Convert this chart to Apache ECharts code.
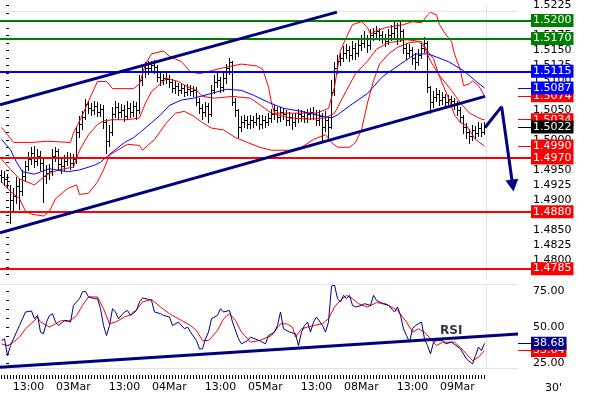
<!DOCTYPE html>
<html><head><meta charset="utf-8">
<script src="https://cdn.jsdelivr.net/npm/echarts@6/dist/echarts.min.js"></script>
<style>html,body{margin:0;padding:0;background:#fff}#c{width:590px;height:400px}</style>
</head><body><div id="c"></div>
<script>
// ---------- DATA (30' bars, bar index = position on the time axis) ----------
const opens = [1.4942,1.4938,1.4935,1.4932,1.4899,1.4907,1.4923,1.4915,1.4940,1.4956,
1.4968,1.4978,1.4965,1.4973,1.4961,1.4940,1.4945,1.4948,1.4973,1.4981,
1.4960,1.4956,1.4965,1.4971,1.4961,1.4968,1.5014,1.5027,1.5039,1.5060,
1.5054,1.5050,1.5057,1.5047,1.5052,1.5031,1.4998,1.5014,1.5044,1.5055,
1.5047,1.5050,1.5041,1.5054,1.5047,1.5057,1.5050,1.5100,1.5113,1.5121,
1.5120,1.5125,1.5123,1.5105,1.5100,1.5103,1.5102,1.5097,1.5087,1.5090,
1.5083,1.5087,1.5080,1.5085,1.5082,1.5083,1.5064,1.5054,1.5047,1.5057,
1.5044,1.5083,1.5097,1.5100,1.5088,1.5103,1.5121,1.5130,1.5064,1.5050,
1.5022,1.5031,1.5034,1.5027,1.5034,1.5031,1.5037,1.5027,1.5034,1.5031,
1.5037,1.5044,1.5050,1.5039,1.5047,1.5044,1.5034,1.5039,1.5031,1.5037,
1.5044,1.5041,1.5037,1.5044,1.5047,1.5044,1.5034,1.5041,1.5022,1.5034,
1.5022,1.5080,1.5121,1.5133,1.5138,1.5146,1.5150,1.5143,1.5154,1.5146,
1.5159,1.5163,1.5171,1.5159,1.5176,1.5179,1.5182,1.5176,1.5171,1.5166,
1.5176,1.5179,1.5187,1.5171,1.5182,1.5154,1.5146,1.5150,1.5138,1.5130,
1.5143,1.5154,1.5163,1.5088,1.5064,1.5072,1.5077,1.5067,1.5072,1.5064,
1.5069,1.5065,1.5060,1.5050,1.5039,1.5022,1.5014,1.5006,1.5017,1.5011,
1.5021,1.5014];
const highs = [1.4950,1.4948,1.4943,1.4925,1.4920,1.4938,1.4935,1.4950,1.4965,1.4980,
1.4988,1.4990,1.4985,1.4982,1.4968,1.4958,1.4960,1.4985,1.4988,1.4985,
1.4968,1.4975,1.4980,1.4978,1.4977,1.5022,1.5040,1.5048,1.5068,1.5066,
1.5062,1.5065,1.5063,1.5060,1.5058,1.5035,1.5025,1.5055,1.5066,1.5062,
1.5060,1.5058,1.5065,1.5062,1.5066,1.5063,1.5108,1.5122,1.5130,1.5132,
1.5133,1.5134,1.5126,1.5112,1.5110,1.5113,1.5108,1.5102,1.5098,1.5095,
1.5094,1.5092,1.5093,1.5092,1.5091,1.5088,1.5070,1.5060,1.5064,1.5062,
1.5092,1.5108,1.5112,1.5105,1.5115,1.5128,1.5138,1.5132,1.5070,1.5052,
1.5040,1.5042,1.5040,1.5042,1.5041,1.5045,1.5042,1.5042,1.5040,1.5045,
1.5052,1.5058,1.5055,1.5055,1.5053,1.5050,1.5047,1.5044,1.5045,1.5052,
1.5050,1.5048,1.5052,1.5054,1.5055,1.5050,1.5050,1.5045,1.5048,1.5040,
1.5100,1.5130,1.5142,1.5146,1.5158,1.5160,1.5158,1.5165,1.5162,1.5170,
1.5175,1.5182,1.5176,1.5185,1.5188,1.5190,1.5188,1.5182,1.5178,1.5185,
1.5192,1.5198,1.5195,1.5199,1.5185,1.5162,1.5160,1.5155,1.5145,1.5152,
1.5162,1.5173,1.5165,1.5090,1.5082,1.5087,1.5083,1.5080,1.5077,1.5076,
1.5074,1.5070,1.5065,1.5055,1.5042,1.5028,1.5018,1.5026,1.5024,1.5030,
1.5028,1.5030];
const lows = [1.4930,1.4925,1.4920,1.4862,1.4880,1.4895,1.4885,1.4908,1.4932,1.4950,
1.4960,1.4955,1.4958,1.4950,1.4897,1.4928,1.4935,1.4942,1.4965,1.4950,
1.4945,1.4950,1.4958,1.4952,1.4955,1.4962,1.5005,1.5018,1.5035,1.5045,
1.5042,1.5044,1.5040,1.5040,1.5020,1.4978,1.4990,1.5008,1.5038,1.5035,
1.5038,1.5032,1.5036,1.5038,1.5040,1.5035,1.5045,1.5092,1.5106,1.5110,
1.5114,1.5112,1.5098,1.5092,1.5094,1.5095,1.5088,1.5080,1.5078,1.5076,
1.5078,1.5074,1.5076,1.5075,1.5074,1.5058,1.5046,1.5035,1.5040,1.5031,
1.5040,1.5078,1.5088,1.5080,1.5082,1.5096,1.5110,1.5058,1.5040,1.5005,
1.5015,1.5022,1.5020,1.5020,1.5022,1.5025,1.5018,1.5020,1.5022,1.5025,
1.5030,1.5036,1.5030,1.5032,1.5035,1.5025,1.5026,1.5018,1.5024,1.5030,
1.5032,1.5030,1.5030,1.5036,1.5035,1.5025,1.5026,1.4997,1.5015,1.5000,
1.5020,1.5075,1.5112,1.5125,1.5132,1.5138,1.5132,1.5136,1.5136,1.5140,
1.5150,1.5155,1.5148,1.5152,1.5168,1.5172,1.5168,1.5162,1.5158,1.5160,
1.5168,1.5170,1.5160,1.5165,1.5145,1.5135,1.5140,1.5128,1.5118,1.5125,
1.5138,1.5148,1.5080,1.5045,1.5055,1.5065,1.5058,1.5060,1.5056,1.5060,
1.5058,1.5052,1.5042,1.5031,1.5012,1.5004,1.4995,1.5000,1.5003,1.5006,
1.5007,1.5010];
const closes = [1.4938,1.4935,1.4932,1.4899,1.4907,1.4923,1.4915,1.4940,1.4956,1.4968,
1.4978,1.4965,1.4973,1.4961,1.4940,1.4945,1.4948,1.4973,1.4981,1.4960,
1.4956,1.4965,1.4971,1.4961,1.4968,1.5014,1.5027,1.5039,1.5060,1.5054,
1.5050,1.5057,1.5047,1.5052,1.5031,1.4998,1.5014,1.5044,1.5055,1.5047,
1.5050,1.5041,1.5054,1.5047,1.5057,1.5050,1.5100,1.5113,1.5121,1.5120,
1.5125,1.5123,1.5105,1.5100,1.5103,1.5102,1.5097,1.5087,1.5090,1.5083,
1.5087,1.5080,1.5085,1.5082,1.5083,1.5064,1.5054,1.5047,1.5057,1.5044,
1.5083,1.5097,1.5100,1.5088,1.5103,1.5121,1.5130,1.5064,1.5050,1.5022,
1.5031,1.5034,1.5027,1.5034,1.5031,1.5037,1.5027,1.5034,1.5031,1.5037,
1.5044,1.5050,1.5039,1.5047,1.5044,1.5034,1.5039,1.5031,1.5037,1.5044,
1.5041,1.5037,1.5044,1.5047,1.5044,1.5034,1.5041,1.5022,1.5034,1.5022,
1.5080,1.5121,1.5133,1.5138,1.5146,1.5150,1.5143,1.5154,1.5146,1.5159,
1.5163,1.5171,1.5159,1.5176,1.5179,1.5182,1.5176,1.5171,1.5166,1.5176,
1.5179,1.5187,1.5171,1.5182,1.5154,1.5146,1.5150,1.5138,1.5130,1.5143,
1.5154,1.5163,1.5088,1.5064,1.5072,1.5077,1.5067,1.5072,1.5064,1.5069,
1.5065,1.5060,1.5050,1.5039,1.5022,1.5014,1.5006,1.5017,1.5011,1.5021,
1.5014,1.5022];

// Bollinger bands and moving average: [bar index, price]
const bbUpper = [[0,1.5021],[2,1.5009],[4,1.4996],[10,1.4996],[15,1.4998],[23,1.4996],[24,1.5012],[27,1.5042],[29,1.5065],[32,1.5098],[35,1.5098],[37,1.5086],[44,1.5086],[46,1.5094],[48,1.5127],[50,1.5144],[54,1.5149],[56,1.5140],[60,1.5131],[63,1.5114],[66,1.5111],[70,1.5116],[74,1.5121],[80,1.5127],[85,1.5124],[87,1.5119],[89,1.5089],[90,1.5062],[91,1.5045],[94,1.5045],[105,1.5045],[109,1.5053],[111,1.5089],[113,1.5150],[115,1.5172],[117,1.5193],[120,1.5198],[122,1.5188],[123,1.5177],[124,1.5181],[128,1.5188],[134,1.5193],[137,1.5198],[140,1.5196],[142,1.5209],[143,1.5214],[145,1.5209],[146,1.5193],[148,1.5177],[150,1.5165],[151,1.5144],[153,1.5116],[154,1.5091],[156,1.5094],[157,1.5099],[159,1.5091],[161,1.5074]];
const bbMiddle = [[0,1.4968],[3,1.4951],[6,1.4935],[11,1.4925],[15,1.4942],[19,1.4950],[24,1.4955],[26,1.4983],[29,1.5009],[32,1.5026],[34,1.5032],[37,1.5034],[42,1.5034],[46,1.5037],[48,1.5062],[50,1.5081],[53,1.5094],[55,1.5103],[59,1.5098],[62,1.5089],[65,1.5083],[67,1.5073],[71,1.5070],[77,1.5073],[83,1.5070],[90,1.5045],[96,1.5037],[103,1.5035],[108,1.5037],[111,1.5045],[115,1.5083],[118,1.5111],[122,1.5132],[125,1.5152],[129,1.5163],[132,1.5165],[135,1.5168],[139,1.5165],[141,1.5155],[143,1.5132],[146,1.5108],[150,1.5083],[153,1.5062],[156,1.5045],[160,1.5035],[161,1.5034]];
const bbLower = [[0,1.4930],[3,1.4914],[6,1.4902],[8,1.4881],[10,1.4876],[14,1.4873],[16,1.4881],[18,1.4902],[22,1.4919],[25,1.4925],[26,1.4909],[29,1.4911],[32,1.4930],[34,1.4950],[36,1.4975],[42,1.4993],[46,1.4991],[47,1.4983],[51,1.5001],[55,1.5029],[58,1.5045],[61,1.5048],[64,1.5040],[67,1.5029],[70,1.5020],[74,1.5017],[78,1.5004],[82,1.4996],[86,1.4988],[90,1.4983],[96,1.4983],[100,1.4988],[104,1.5001],[108,1.5009],[110,1.4996],[112,1.4988],[116,1.4988],[118,1.4996],[120,1.5017],[122,1.5062],[124,1.5099],[126,1.5127],[129,1.5144],[132,1.5155],[136,1.5163],[140,1.5165],[142,1.5149],[144,1.5136],[146,1.5106],[149,1.5070],[151,1.5042],[153,1.5029],[155,1.5024],[158,1.5001],[161,1.4990]];
const movingAvg = [[0,1.5001],[3,1.4984],[5,1.4963],[7,1.4947],[11,1.4943],[16,1.4952],[22,1.4947],[26,1.4950],[31,1.4958],[33,1.4963],[36,1.4976],[41,1.4996],[44,1.5004],[46,1.5012],[50,1.5029],[53,1.5042],[56,1.5058],[60,1.5067],[64,1.5070],[70,1.5078],[75,1.5085],[80,1.5083],[84,1.5075],[89,1.5063],[94,1.5053],[100,1.5048],[105,1.5042],[110,1.5037],[112,1.5042],[116,1.5057],[122,1.5078],[127,1.5106],[133,1.5127],[138,1.5144],[142,1.5144],[145,1.5139],[149,1.5131],[154,1.5116],[158,1.5099],[161,1.5087]];

// RSI and its signal line: [bar index, value]
const rsiValues = [[0,40.6],[1,41.8],[2,30.1],[3,37.1],[4,41.8],[5,46.5],[6,51.1],[7,55.8],[8,60.5],[10,61.2],[11,55.8],[12,58.1],[13,46.5],[14,45.3],[15,53.5],[16,58.1],[17,59.3],[18,53.5],[19,51.1],[21,54.6],[22,54.6],[23,53.5],[24,65.1],[26,69.8],[27,74.5],[28,74.9],[29,71.0],[31,69.8],[32,69.8],[33,62.8],[34,51.1],[35,44.1],[36,51.1],[37,62.8],[38,60.5],[39,55.8],[41,60.5],[42,61.6],[43,58.1],[44,60.5],[45,61.6],[46,67.5],[47,70.3],[49,69.3],[50,68.6],[51,60.5],[53,59.3],[54,58.1],[56,57.0],[57,51.1],[59,53.5],[61,48.8],[62,50.0],[63,46.5],[65,40.6],[66,34.8],[67,34.8],[68,41.8],[69,46.5],[70,55.8],[72,58.1],[73,62.8],[74,60.5],[76,61.6],[77,53.5],[79,41.8],[80,38.3],[82,40.6],[83,43.0],[86,40.6],[88,38.3],[89,44.1],[91,46.5],[92,51.1],[93,60.5],[94,48.8],[96,46.5],[98,45.3],[99,37.1],[100,46.5],[101,51.1],[102,53.5],[103,46.5],[104,53.5],[105,57.0],[107,51.1],[108,46.5],[109,53.5],[110,78.5],[111,79.3],[112,69.8],[113,67.5],[114,72.1],[115,69.8],[116,72.1],[117,65.1],[118,64.0],[120,65.1],[121,66.3],[123,65.1],[124,72.1],[125,68.6],[127,66.3],[129,65.1],[131,60.5],[132,64.0],[133,58.1],[134,48.8],[135,44.1],[136,39.5],[137,48.8],[138,51.1],[140,53.5],[141,41.8],[142,37.1],[143,31.3],[144,39.5],[145,40.6],[147,40.6],[148,38.3],[150,39.5],[153,34.8],[155,27.8],[157,24.3],[158,30.1],[159,36.0],[160,33.6],[161,38.68]];
const rsiSignal = [[0,38.3],[2,37.1],[4,39.5],[6,43.0],[8,48.8],[11,54.6],[12,57.0],[13,53.5],[16,50.0],[18,52.3],[20,54.6],[22,53.9],[23,54.6],[25,58.1],[27,65.1],[29,71.0],[32,71.0],[34,62.8],[36,52.3],[38,53.5],[41,57.0],[44,59.3],[47,67.5],[50,69.3],[53,64.0],[56,59.3],[57,58.1],[60,54.6],[63,51.1],[65,47.6],[67,40.6],[69,40.6],[72,47.6],[74,55.8],[76,59.3],[78,54.6],[80,46.5],[82,41.8],[83,39.5],[86,40.6],[90,44.1],[93,52.3],[95,52.3],[97,50.0],[98,43.0],[100,48.8],[104,51.1],[107,52.3],[109,55.8],[111,64.0],[113,68.6],[115,72.1],[117,69.8],[119,66.3],[122,64.0],[125,67.0],[128,66.3],[132,61.6],[135,53.5],[137,46.5],[139,48.8],[141,46.5],[143,41.8],[145,37.1],[147,39.5],[151,39.5],[154,33.6],[157,26.6],[159,29.0],[161,33.64]];

// drawn lines: [bar index, value]
const channelUpper = [[-0.5,1.5059],[111.8,1.5214]];
const channelLower = [[-0.5,1.4845],[161.2,1.5073]];
const forecastArrow = [[161.2,1.5021],[166.7,1.5056],[170.4,1.4924]];
const rsiTrend = [[-0.5,22.0],[172.2,45.2]];

// horizontal levels
const levelValues = [1.5200, 1.5170, 1.5115, 1.4970, 1.4880, 1.4785];

// axis ticks / labels
const timeLabelIdx = [9,24,41,56,73,88,105,120,137,152];
const timeLabels = ['13:00','03Mar','13:00','04Mar','13:00','05Mar','13:00','08Mar','13:00','09Mar'];
const priceLabels = [1.4800,1.4825,1.4850,1.4875,1.4900,1.4925,1.4950,1.4975,1.5000,1.5025,1.5050,1.5075,1.5100,1.5125,1.5150,1.5175,1.5200,1.5225];
const rsiLabels = [25,50,75];

// ---------- CHART ----------
const FONT = 'DejaVu Sans';
const NAVY = '#000080', RED = '#ff0000', GREEN = '#008000', BLUE = '#0000ff';
const GRIDC = '#dce4ec';
const levelColors = [GREEN, GREEN, BLUE, RED, RED, RED];
const xMin = -0.5, xMax = 176.5, xMarkStart = 172.17;
const priceMin = 1.4766, priceMax = 1.52258;
const rsiMin = 21.5, rsiMax = 80;
const lastIdx = closes.length - 1;

const ohlc = closes.map((c, i) => [i, opens[i], highs[i], lows[i], c]);
const barTicks = closes.map((c, i) => i);
const priceTicks = [];
for (let k = 0; k <= 36; k++) priceTicks.push(Math.round((1.4775 + k * 0.00125) * 1e5) / 1e5);
const rsiTicks = [];
for (let k = 0; k <= 8; k++) rsiTicks.push(25 + k * 6.25);

function boxLabel(bg, text) {
  return { show: true, position: 'end', distance: 0, backgroundColor: bg, color: '#fff',
    fontSize: 11, fontFamily: FONT, padding: [1, 2, 1, 2], lineHeight: 11, formatter: text };
}
function shortMark(v, color, digits) {
  return [{ coord: [xMarkStart, v], lineStyle: { color: color, width: 1, type: 'solid' },
            label: boxLabel(color, v.toFixed(digits)) }, { coord: [xMax, v] }];
}

function renderOHLC(params, api) {
  const i = api.value(0);
  const pO = api.coord([i, api.value(1)]);
  const pH = api.coord([i, api.value(2)]);
  const pL = api.coord([i, api.value(3)]);
  const pC = api.coord([i, api.value(4)]);
  const x = Math.floor(pH[0]);
  const yH = Math.round(pH[1]), yL = Math.round(pL[1]);
  return { type: 'group', children: [
    { type: 'rect', shape: { x: x, y: yH, width: 1, height: Math.max(1, yL - yH + 1) }, style: { fill: '#000' } },
    { type: 'rect', shape: { x: x - 1, y: Math.round(pO[1]), width: 1, height: 1 }, style: { fill: '#000' } },
    { type: 'rect', shape: { x: x + 1, y: Math.round(pC[1]), width: 1, height: 1 }, style: { fill: '#000' } }
  ]};
}

const lineBase = (data, color, width, z, xi) => ({
  type: 'line', data: data, xAxisIndex: xi, yAxisIndex: xi, showSymbol: false, symbol: 'none',
  lineStyle: { color: color, width: width }, itemStyle: { color: color }, z: z, silent: true, clip: true
});
const ML = (extra) => Object.assign({ silent: true, symbol: ['none', 'none'], animation: false, precision: 6 }, extra);

const option = {
  animation: false,
  backgroundColor: '#fff',
  textStyle: { fontFamily: FONT },
  grid: [
    { left: 0, top: 0, width: 531, height: 280, show: false },
    { left: 0, top: 284, width: 531, height: 84, show: false }
  ],
  xAxis: [
    { type: 'value', gridIndex: 0, min: xMin, max: xMax, show: false },
    { type: 'value', gridIndex: 1, min: xMin, max: xMax, offset: 7,
      axisLine: { show: false }, splitLine: { show: false },
      axisTick: { show: true, length: 4, customValues: barTicks, lineStyle: { color: '#000' } },
      axisLabel: { customValues: timeLabelIdx, formatter: v => timeLabels[timeLabelIdx.indexOf(v)],
                   color: '#000', fontSize: 11, fontFamily: FONT, margin: 7 } }
  ],
  yAxis: [
    { type: 'value', gridIndex: 0, position: 'right', offset: -6, min: priceMin, max: priceMax,
      axisLine: { show: false }, splitLine: { show: false },
      axisTick: { show: true, length: 3, customValues: priceTicks, lineStyle: { color: '#000' } },
      axisLabel: { customValues: priceLabels, formatter: v => v.toFixed(4), color: '#000',
                   fontSize: 11, fontFamily: FONT, margin: 8, padding: [3, 0, 0, 0] } },
    { type: 'value', gridIndex: 1, position: 'right', offset: -6, min: rsiMin, max: rsiMax,
      axisLine: { show: false }, splitLine: { show: false },
      axisTick: { show: true, length: 3, customValues: rsiTicks, lineStyle: { color: '#000' } },
      axisLabel: { customValues: rsiLabels, formatter: v => v.toFixed(2), color: '#000',
                   fontSize: 11, fontFamily: FONT, margin: 8, padding: [3, 0, 0, 0] } }
  ],
  series: [
    Object.assign(lineBase([], GRIDC, 1, 1, 0), {
      markLine: ML({ label: { show: false }, lineStyle: { color: GRIDC, width: 1, type: 'solid' },
        data: [ [{ coord: [xMin, 1.52159] }, { coord: [xMarkStart, 1.52159] }], { xAxis: 161.5 } ] }) }),
    Object.assign(lineBase([], GRIDC, 1, 1, 1), {
      markLine: ML({ label: { show: false }, lineStyle: { color: GRIDC, width: 1, type: 'solid' },
        data: [ [{ coord: [xMin, 79.9] }, { coord: [xMarkStart, 79.9] }],
                [{ coord: [xMin, 21.6] }, { coord: [xMarkStart, 21.6] }], { xAxis: 161.5 } ] }) }),
    {
      type: 'custom', xAxisIndex: 0, yAxisIndex: 0, data: ohlc, renderItem: renderOHLC,
      encode: { x: 0, y: [1, 2, 3, 4] }, z: 2, silent: true, clip: true
    },
    lineBase(bbUpper, RED, 1, 3, 0),
    lineBase(bbMiddle, RED, 1, 3, 0),
    lineBase(bbLower, RED, 1, 3, 0),
    lineBase(movingAvg, BLUE, 1, 3, 0),
    Object.assign(lineBase([], RED, 1, 4, 0), {
      markLine: ML({
        data: levelValues.map((v, k) => ({ yAxis: v, lineStyle: { color: levelColors[k], width: 2, type: 'solid' },
                                           label: boxLabel(levelColors[k], v.toFixed(4)) })) }) }),
    Object.assign(lineBase([], RED, 1, 6, 0), {
      markLine: ML({
        data: [ shortMark(bbUpper[bbUpper.length - 1][1], RED, 4),
                shortMark(bbMiddle[bbMiddle.length - 1][1], RED, 4),
                shortMark(bbLower[bbLower.length - 1][1], RED, 4) ] }) }),
    Object.assign(lineBase([], BLUE, 1, 7, 0), {
      markLine: ML({
        data: [ shortMark(movingAvg[movingAvg.length - 1][1], BLUE, 4),
                shortMark(closes[lastIdx], '#000000', 4) ] }) }),
    lineBase(channelUpper, NAVY, 3, 5, 0),
    Object.assign(lineBase(channelLower, NAVY, 3, 5, 0), {
      markLine: ML({ label: { show: false }, lineStyle: { color: NAVY, width: 3, type: 'solid' },
        data: [
          [{ coord: forecastArrow[0], symbol: 'none' }, { coord: forecastArrow[1], symbol: 'none' }],
          [{ coord: forecastArrow[1], symbol: 'none' }, { coord: forecastArrow[2], symbol: 'triangle', symbolSize: [13, 12] }]
        ] }) }),
    lineBase(rsiSignal, RED, 1, 3, 1),
    lineBase(rsiValues, NAVY, 1, 4, 1),
    lineBase(rsiTrend, NAVY, 3, 5, 1),
    Object.assign(lineBase([], RED, 1, 6, 1), {
      markLine: ML({ data: [ shortMark(rsiSignal[rsiSignal.length - 1][1], RED, 2) ] }) }),
    Object.assign(lineBase([], NAVY, 1, 7, 1), {
      markLine: ML({ data: [ shortMark(rsiValues[rsiValues.length - 1][1], NAVY, 2) ] }) })
  ],
  graphic: [
    { type: 'text', z: 10, style: { text: 'RSI', x: 440, y: 331, verticalAlign: 'middle',
        font: 'bold 12px "DejaVu Sans"', fill: '#333344' } },
    { type: 'text', z: 10, style: { text: "30'", x: 545, y: 388, verticalAlign: 'middle',
        font: '11px "DejaVu Sans"', fill: '#000' } }
  ]
};

const chart = echarts.init(document.getElementById('c'), null, { renderer: 'canvas' });
chart.setOption(option);
</script>
</body></html>
